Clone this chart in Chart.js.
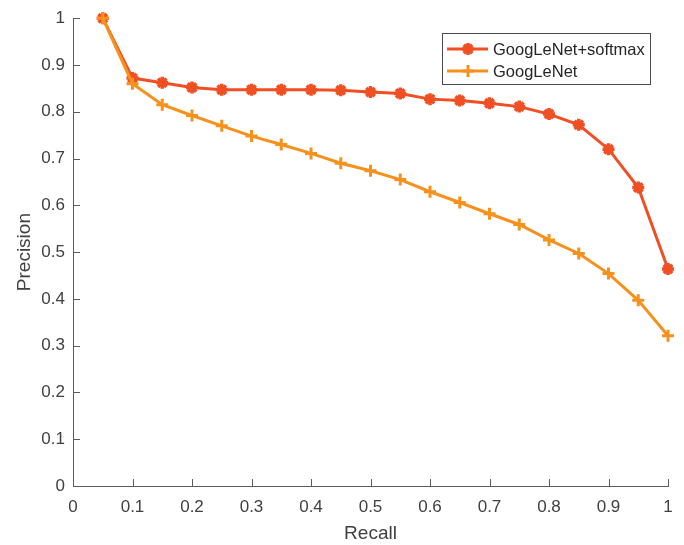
<!DOCTYPE html>
<html>
<head>
<meta charset="utf-8">
<script src="https://cdn.jsdelivr.net/npm/chart.js@4/dist/chart.umd.min.js"></script>
<style>
  html, body { margin: 0; padding: 0; background: #fff; }
  #wrap { width: 684px; height: 545px; position: relative; }
</style>
</head>
<body>
<div id="wrap"><canvas id="prChart"></canvas></div>
<script>
// Recall points (x) and precision for each model
const recall = [0.05, 0.1, 0.15, 0.2, 0.25, 0.3, 0.35, 0.4, 0.45, 0.5,
                0.55, 0.6, 0.65, 0.7, 0.75, 0.8, 0.85, 0.9, 0.95, 1.0];
const softmaxPrecision = [1.0, 0.872, 0.862, 0.852, 0.847, 0.847, 0.847, 0.847, 0.846, 0.842,
                          0.839, 0.827, 0.824, 0.818, 0.811, 0.795, 0.772, 0.720, 0.638, 0.464];
const googlenetPrecision = [1.0, 0.860, 0.815, 0.792, 0.770, 0.748, 0.730, 0.711, 0.690, 0.674,
                            0.655, 0.629, 0.606, 0.582, 0.559, 0.526, 0.497, 0.454, 0.397, 0.321];
const seriesNames = ['GoogLeNet+softmax', 'GoogLeNet'];
const seriesColors = ['#F04F23', '#F7911E'];
const seriesMarkers = ['star', 'cross'];

const FONT = '"Liberation Sans", Arial, Helvetica, sans-serif';
const AXIS_COLOR = '#5c5c5c';
const TEXT_COLOR = '#404040';

const toPoints = (ys) => recall.map((x, i) => ({ x: x, y: ys[i] }));
const fmt = (v) => String(Math.round(v * 10) / 10);

// MATLAB-style inward tick marks
const inwardTicks = {
  id: 'inwardTicks',
  beforeDatasetsDraw(chart) {
    const { ctx, chartArea: a, scales: { x, y } } = chart;
    ctx.save();
    ctx.strokeStyle = AXIS_COLOR;
    ctx.lineWidth = 1;
    ctx.beginPath();
    x.ticks.forEach((t, i) => {
      const px = Math.round(x.getPixelForTick(i)) + 0.5;
      ctx.moveTo(px, a.bottom);
      ctx.lineTo(px, a.bottom - 7);
    });
    y.ticks.forEach((t, i) => {
      const py = Math.round(y.getPixelForTick(i)) + 0.5;
      ctx.moveTo(a.left, py);
      ctx.lineTo(a.left + 7, py);
    });
    ctx.stroke();
    ctx.restore();
  }
};

function drawMarker(ctx, style, cx, cy, r) {
  ctx.beginPath();
  ctx.moveTo(cx - r, cy); ctx.lineTo(cx + r, cy);
  ctx.moveTo(cx, cy - r); ctx.lineTo(cx, cy + r);
  if (style === 'star') {
    const d = r * Math.SQRT1_2;
    ctx.moveTo(cx - d, cy - d); ctx.lineTo(cx + d, cy + d);
    ctx.moveTo(cx - d, cy + d); ctx.lineTo(cx + d, cy - d);
  }
  ctx.stroke();
}

// Boxed legend inside the plot, top right
const boxLegend = {
  id: 'boxLegend',
  afterDraw(chart) {
    const ctx = chart.ctx;
    const bx = 442.5, by = 33.5, bw = 208, bh = 51;
    ctx.save();
    ctx.fillStyle = '#fff';
    ctx.fillRect(bx, by, bw, bh);
    ctx.strokeStyle = '#4a4a4a';
    ctx.lineWidth = 1;
    ctx.strokeRect(bx, by, bw, bh);
    const rows = [49, 71];
    seriesNames.forEach((name, i) => {
      const cy = rows[i];
      ctx.strokeStyle = seriesColors[i];
      ctx.lineWidth = 3;
      ctx.beginPath();
      ctx.moveTo(447, cy); ctx.lineTo(488, cy);
      ctx.stroke();
      ctx.lineWidth = i === 0 ? 3.5 : 3;
      drawMarker(ctx, seriesMarkers[i], 468, cy, 6);
      ctx.fillStyle = '#262626';
      ctx.font = '16.5px ' + FONT;
      ctx.textBaseline = 'middle';
      ctx.textAlign = 'left';
      ctx.fillText(name, 493, cy + 1);
    });
    ctx.restore();
  }
};

const datasets = [
  {
    label: seriesNames[0],
    data: toPoints(softmaxPrecision),
    borderColor: seriesColors[0],
    backgroundColor: seriesColors[0],
    borderWidth: 3,
    pointStyle: seriesMarkers[0],
    pointRadius: 6,
    pointBorderWidth: 3.5,
    pointBorderColor: seriesColors[0],
    tension: 0,
    clip: false,
    order: 2
  },
  {
    label: seriesNames[1],
    data: toPoints(googlenetPrecision),
    borderColor: seriesColors[1],
    backgroundColor: seriesColors[1],
    borderWidth: 3,
    pointStyle: seriesMarkers[1],
    pointRadius: 6,
    pointBorderWidth: 3,
    pointBorderColor: seriesColors[1],
    tension: 0,
    clip: false,
    order: 1
  }
];

new Chart(document.getElementById('prChart'), {
  type: 'line',
  data: { datasets: datasets },
  options: {
    responsive: true,
    maintainAspectRatio: false,
    animation: false,
    layout: { padding: { top: 16, right: 16, left: 0, bottom: 0 } },
    plugins: {
      legend: { display: false },
      tooltip: { enabled: false }
    },
    scales: {
      x: {
        type: 'linear',
        min: 0,
        max: 1,
        grid: { display: false, drawTicks: false },
        border: { display: true, color: AXIS_COLOR, width: 1 },
        ticks: {
          stepSize: 0.1,
          autoSkip: false,
          maxRotation: 0,
          padding: 11,
          color: TEXT_COLOR,
          font: { family: FONT, size: 17 },
          callback: (v) => fmt(v)
        },
        title: {
          display: true,
          text: 'Recall',
          color: TEXT_COLOR,
          font: { family: FONT, size: 19 },
          padding: { top: 0, bottom: 0 }
        },
        afterFit: (s) => { s.height = 59; }
      },
      y: {
        type: 'linear',
        min: 0,
        max: 1,
        grid: { display: false, drawTicks: false },
        border: { display: true, color: AXIS_COLOR, width: 1 },
        ticks: {
          stepSize: 0.1,
          autoSkip: false,
          padding: 8,
          color: TEXT_COLOR,
          font: { family: FONT, size: 17 },
          callback: (v) => fmt(v)
        },
        title: {
          display: true,
          text: 'Precision',
          color: TEXT_COLOR,
          font: { family: FONT, size: 19 },
          padding: { top: 13, bottom: 0 }
        },
        afterFit: (s) => { s.width = 73; }
      }
    }
  },
  plugins: [inwardTicks, boxLegend]
});
</script>
</body>
</html>
